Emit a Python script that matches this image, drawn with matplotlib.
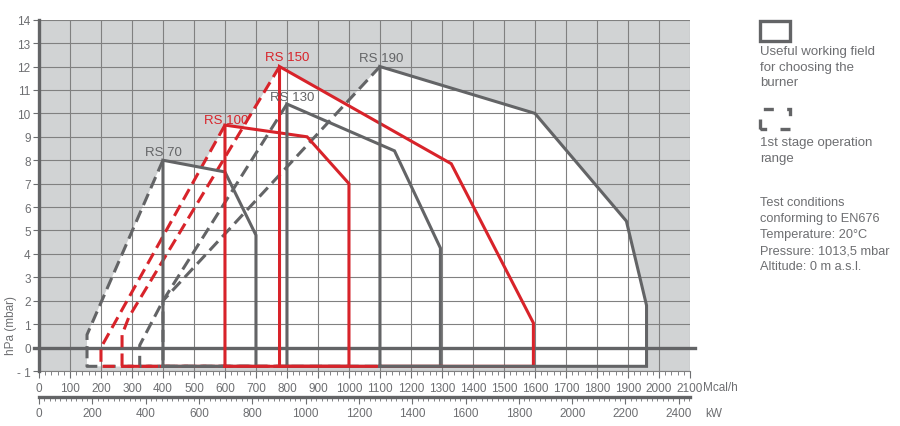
import matplotlib.pyplot as plt
from matplotlib.patches import Rectangle
from matplotlib.ticker import MultipleLocator, FixedLocator
import matplotlib.transforms as mtransforms

plt.rcParams['font.family'] = ['Liberation Sans', 'DejaVu Sans']

# -----------------------------
# Datos (Mcal/h, hPa)
# -----------------------------
burners = ["RS 70", "RS 100", "RS 130", "RS 150", "RS 190"]
colors_b = ["gray", "red", "gray", "red", "gray"]

# campo de trabajo (linea continua)
rs70_x = [400, 400, 600, 700, 700]
rs70_y = [-0.8, 8.0, 7.5, 4.8, -0.8]
rs100_x = [600, 600, 865, 1000, 1000]
rs100_y = [-0.8, 9.5, 9.0, 7.0, -0.8]
rs130_x = [800, 800, 1147, 1295, 1295]
rs130_y = [-0.8, 10.4, 8.4, 4.25, -0.8]
rs150_x = [776, 776, 1330, 1595, 1595]
rs150_y = [-0.8, 12.0, 7.85, 1.05, -0.8]
rs190_x = [1100, 1100, 1600, 1895, 1960, 1960]
rs190_y = [-0.8, 12.0, 10.0, 5.4, 1.8, -0.8]

# primera etapa (linea discontinua)
st70_x = [400, 155, 155, 400]
st70_y = [8.0, 0.55, -0.8, -0.8]
st100_x = [600, 200, 200, 600]
st100_y = [9.5, 0.0, -0.8, -0.8]
st130_x = [800, 400, 325, 325, 800]
st130_y = [10.4, 2.0, 0.1, -0.8, -0.8]
st150_x = [776, 290, 268, 268, 776]
st150_y = [12.0, 1.3, 0.55, -0.8, -0.8]
st190_x = [1100, 400, 400, 1100]
st190_y = [12.0, 2.0, -0.8, -0.8]

label_x = [400, 605, 818, 800, 1104]
label_y = [8.35, 9.72, 10.7, 12.4, 12.37]

mcal_ticks = list(range(0, 2101, 100))
kw_ticks = list(range(0, 2401, 200))
hpa_ticks = list(range(-1, 15))
hpa_labels = ["- 1"] + [str(v) for v in range(0, 15)]

fields = [(rs70_x, rs70_y), (rs100_x, rs100_y), (rs130_x, rs130_y),
          (rs150_x, rs150_y), (rs190_x, rs190_y)]
stages = [(st70_x, st70_y), (st100_x, st100_y), (st130_x, st130_y),
          (st150_x, st150_y), (st190_x, st190_y)]

GRAY_BG = "#d1d3d4"
GRID = "#808080"
GRAY = "#636466"
RED = "#d8232a"
TXT = "#6d6e71"
col = {"gray": GRAY, "red": RED}

fig = plt.figure(figsize=(9, 4.27), dpi=100)
ax = fig.add_axes([0.0433, 0.1288, 0.7233, 0.8227])
ax.set_facecolor(GRAY_BG)
ax.set_xlim(0, 2100)
ax.set_ylim(-1, 14)

# zona blanca = union de las envolventes
for (fx, fy), (sx, sy) in zip(fields, stages):
    px = sx[::-1] + fx[1:]
    py = sy[::-1] + fy[1:]
    ax.fill(px, py, color="white", zorder=0.5, lw=0)

# rejilla
for x in mcal_ticks:
    ax.axvline(x, color=GRID, lw=0.8, zorder=1)
for y in hpa_ticks:
    ax.axhline(y, color=GRID, lw=0.8, zorder=1)

# envolventes: primero grises, luego rojas
order = [0, 2, 4, 1, 3]
for i in order:
    c = col[colors_b[i]]
    sx, sy = stages[i]
    ax.plot(sx, sy, color=c, lw=2.2, ls=(0, (4, 2)), zorder=3 + i * 0.01,
            dash_capstyle="butt")
for i in order:
    c = col[colors_b[i]]
    fx, fy = fields[i]
    ax.plot(fx + [fx[0]], fy + [fy[0]], color=c, lw=2.2, zorder=4 + i * 0.01,
            solid_joinstyle="miter")
    ax.text(label_x[i], label_y[i], burners[i], color=c, fontsize=9.5,
            ha="center", va="center", zorder=5)

# linea de 0 hPa
ax.plot([-15, 2115], [0, 0], color=GRAY, lw=2.4, zorder=2, clip_on=False)

# ejes
for s in ["top", "right"]:
    ax.spines[s].set_visible(False)
ax.spines["left"].set_color(GRAY)
ax.spines["left"].set_linewidth(2.4)
ax.spines["left"].set_zorder(6)
ax.spines["bottom"].set_color(GRID)
ax.spines["bottom"].set_linewidth(0.8)

ax.yaxis.set_major_locator(FixedLocator(hpa_ticks))
ax.set_yticklabels(hpa_labels)
ax.tick_params(axis="y", colors=TXT, labelsize=8.5, length=4, width=0.8, pad=2)
ax.xaxis.set_major_locator(FixedLocator(mcal_ticks))
ax.xaxis.set_minor_locator(MultipleLocator(20))
ax.tick_params(axis="x", which="major", colors=TXT, labelsize=8.5, length=5,
               width=0.8, pad=3)
ax.tick_params(axis="x", which="minor", colors=TXT, length=3, width=0.6)

tr = mtransforms.blended_transform_factory(ax.transAxes, ax.transData)
ax.text(-0.043, 1.0, "hPa (mbar)", rotation=90, ha="center", va="center",
        color=TXT, fontsize=8.5, transform=tr)
ax.text(1.02, -0.0455, "Mcal/h", transform=ax.transAxes, ha="left",
        va="center", color=TXT, fontsize=8.5)

# eje secundario kW
sec = ax.secondary_xaxis(-0.074, functions=(lambda m: m / 0.86,
                                             lambda k: k * 0.86))
sec.xaxis.set_major_locator(FixedLocator(kw_ticks))
sec.xaxis.set_minor_locator(MultipleLocator(20))
sec.spines["bottom"].set_color(GRAY)
sec.spines["bottom"].set_linewidth(2.4)
sec.tick_params(axis="x", which="major", colors=TXT, labelsize=8.5, length=5,
                width=0.8, pad=2)
sec.tick_params(axis="x", which="minor", colors=TXT, length=3, width=0.6)
ax.text(1.023, -0.12, "kW", transform=ax.transAxes, ha="left",
        va="center", color=TXT, fontsize=8.5)

# leyenda
fig.patches.append(Rectangle((760 / 900, 1 - 42 / 427), 30 / 900, 20 / 427,
                             transform=fig.transFigure, fill=False,
                             edgecolor=GRAY, lw=2.4))
fig.patches.append(Rectangle((760 / 900, 1 - 130 / 427), 30 / 900, 20 / 427,
                             transform=fig.transFigure, fill=False,
                             edgecolor=GRAY, lw=2.4, ls=(1, (3, 4))))
fig.text(760 / 900, 1 - 46 / 427, "Useful working field\nfor choosing the\nburner",
         ha="left", va="top", color=TXT, fontsize=9.5, linespacing=1.4)
fig.text(760 / 900, 1 - 137 / 427, "1st stage operation\nrange",
         ha="left", va="top", color=TXT, fontsize=9.5, linespacing=1.4)
fig.text(760 / 900, 1 - 197 / 427,
         "Test conditions\nconforming to EN676\nTemperature: 20°C\n"
         "Pressure: 1013,5 mbar\nAltitude: 0 m a.s.l.",
         ha="left", va="top", color=TXT, fontsize=9.2, linespacing=1.45)

fig.savefig("out.png", dpi=100, facecolor="white")
